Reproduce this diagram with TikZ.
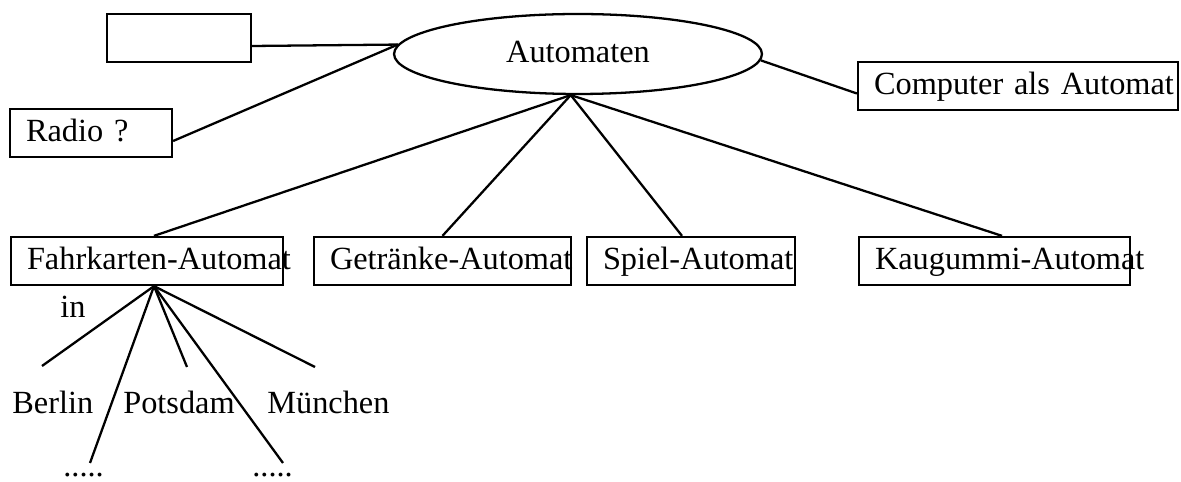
\documentclass[tikz,border=0pt]{standalone}
\usepackage{fontspec}
\setmainfont{Liberation Serif}
\usetikzlibrary{shapes.geometric}
\tikzstyle{box} = [rectangle, draw, line width=1.3pt, inner xsep=0.32cm, inner ysep=0pt, minimum height=0.96cm, text height=13.8pt, text depth=4.6pt, align=left]
\tikzstyle{oval} = [ellipse, draw, line width=1.3pt, minimum width=7.36cm, minimum height=1.6cm, inner sep=0pt, text height=13.8pt, text depth=4.6pt]
\tikzstyle{word} = [inner sep=0pt, anchor=base west]
\tikzstyle{line} = [draw, line width=1.3pt]

\begin{document}
\begin{tikzpicture}[x=0.02cm, y=-0.02cm, font=\fontsize{18.4}{22}\selectfont]
	\useasboundingbox (0,0) rectangle (1181,482);

	\node [box, text width=2.24cm] (leer) at (179,38) {};
	\node [oval] (auto) at (578,54) {Automaten};
	\node [box, text width=2.6cm] (radio) at (91,133) {\mbox{Radio ?}};
	\node [box, text width=5.76cm] (comp) at (1018,86) {\mbox{Computer als Automat !}};

	\node [box, text width=4.8cm] (fahr) at (147,261) {\mbox{Fahrkarten-Automat}};
	\node [box, text width=4.5cm] (getr) at (442.5,261) {\mbox{Getränke-Automat}};
	\node [box, text width=3.52cm] (spiel) at (691,261) {\mbox{Spiel-Automat}};
	\node [box, text width=4.78cm] (kaug) at (994.5,261) {\mbox{Kaugummi-Automat}};

	% Orte unter dem Fahrkarten-Automat
	\node [word] (inlbl) at (60,318) {in};
	\node [word] (berlin) at (12,414) {Berlin};
	\node [word] (potsdam) at (123,414) {Potsdam};
	\node [word] (muenchen) at (267,414) {München};
	\node [word] (dotsA) at (63,477) {.....};
	\node [word] (dotsB) at (252,477) {.....};

	\coordinate (toBerlin) at (42,366);
	\coordinate (toDotsA) at (90,463);
	\coordinate (toPotsdam) at (187,367);
	\coordinate (toDotsB) at (283,463);
	\coordinate (toMuenchen) at (315,367);

	\path[line] ([yshift=-0.16cm]leer.east) -- (auto.177);
	\path[line] ([yshift=-0.16cm]radio.east) -- (auto.177);
	\path[line] (auto.-2) -- ([yshift=-0.15cm]comp.west);

	\path[line] (auto.260) -- ([xshift=0.14cm]fahr.north);
	\path[line] (auto.260) -- (getr.north);
	\path[line] (auto.260) -- ([xshift=-0.18cm]spiel.north);
	\path[line] (auto.260) -- ([xshift=0.15cm]kaug.north);

	\path[line] ([xshift=0.14cm]fahr.south) -- (toBerlin);
	\path[line] ([xshift=0.14cm]fahr.south) -- (toDotsA);
	\path[line] ([xshift=0.14cm]fahr.south) -- (toPotsdam);
	\path[line] ([xshift=0.14cm]fahr.south) -- (toDotsB);
	\path[line] ([xshift=0.14cm]fahr.south) -- (toMuenchen);
\end{tikzpicture}
\end{document}
